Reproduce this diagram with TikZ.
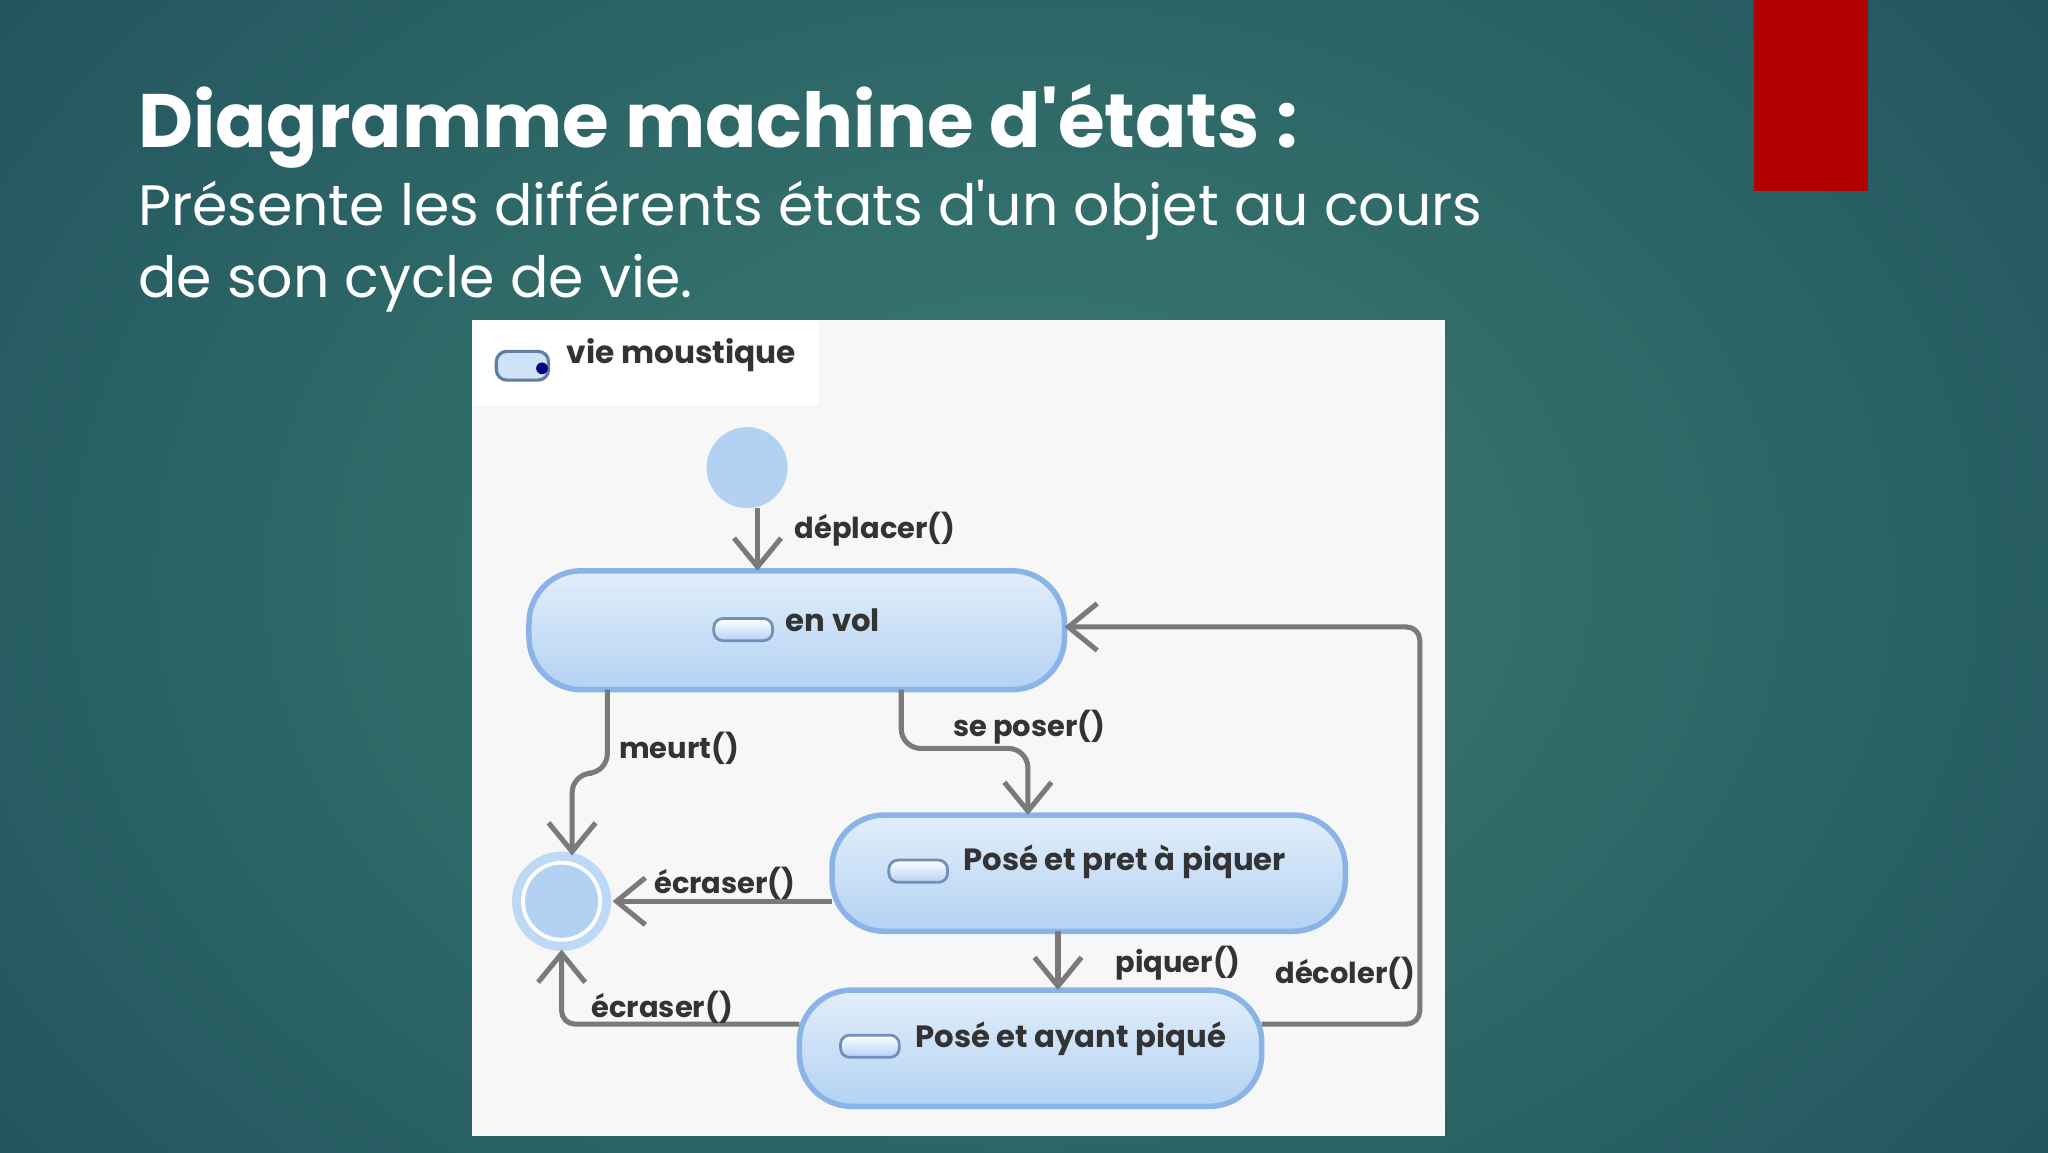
\documentclass[tikz,border=0pt]{standalone}
\usepackage{fontspec}
\setmainfont{Poppins}
\usetikzlibrary{arrows.meta,shadings}
\definecolor{stb}{HTML}{8AB4E8}
\definecolor{stf}{HTML}{CFE3F8}
\definecolor{stf2}{HTML}{B3D2F3}
\definecolor{cn}{HTML}{7A7A7A}
\definecolor{txt}{HTML}{333333}
\definecolor{bgin}{HTML}{3C7D72}
\definecolor{bgout}{HTML}{174556}
\tikzset{
 state/.style={draw=stb,line width=1.2pt,rounded corners=0.4cm,top color=stf!60!white,bottom color=stf2},
 conn/.style={draw=cn,line width=1.1pt,-{Straight Barb[length=0.22cm,width=0.36cm,line width=1.1pt]}},
 lbl/.style={font=\bfseries\fontsize{6.3}{8}\selectfont,text=txt,inner sep=0pt},
 stxt/.style={font=\bfseries\fontsize{6.7}{8}\selectfont,text=txt,inner sep=0pt},
 icon/.style={draw=stb!80!black,line width=0.6pt,rounded corners=0.07cm,top color=white,bottom color=stf2,minimum width=0.45cm,minimum height=0.17cm,inner sep=0pt}
}
\begin{document}
\begin{tikzpicture}[y=-1cm]
\useasboundingbox (0,0) rectangle (15.68,8.82);
\shade[inner color=bgin,outer color=bgout] (-6,-6) rectangle (21.68,14.82);
\clip (0,0) rectangle (15.68,8.82);
\fill[red!70!black] (13.43,0) rectangle (14.3,1.46);
\node[anchor=base west,inner sep=0pt,text=white,font=\bfseries\fontsize{16.5}{20}\selectfont] (title) at (1.05,1.13) {Diagramme machine d\textquotesingle états :};
\node[anchor=base west,inner sep=0pt,text=white,font=\fontsize{12.4}{15}\selectfont] (sub1) at (1.05,1.73) {Présente les différents états d\textquotesingle un objet au cours};
\node[anchor=base west,inner sep=0pt,text=white,font=\fontsize{12.4}{15}\selectfont] (sub2) at (1.05,2.28) {de son cycle de vie.};
\fill[black!3] (3.61,2.45) rectangle (11.06,8.7);
\fill[white] (3.61,2.45) rectangle (6.27,3.1);
\node[draw=stb!70!black,line width=0.7pt,rounded corners=0.08cm,fill=stf,minimum width=0.4cm,minimum height=0.22cm,inner sep=0pt] (tabicon) at (4.0,2.8) {};
\fill[blue!50!black] (4.15,2.82) circle (0.045);
\node[anchor=west,font=\bfseries\fontsize{6.8}{8}\selectfont,text=txt,inner sep=0pt] (tab) at (4.33,2.72) {vie moustique};
% states
\node[circle,fill=stf2,minimum size=0.62cm,inner sep=0pt] (init) at (5.72,3.58) {};
\draw[state] (4.05,4.37) rectangle (8.15,5.28);
\node[icon] (i1) at (5.69,4.82) {};
\node[stxt,anchor=west] (t1) at (6.01,4.75) {en vol};
\draw[state] (6.37,6.24) rectangle (10.3,7.13);
\node[icon] (i2) at (7.03,6.67) {};
\node[stxt,anchor=west] (t2) at (7.37,6.6) {Posé et pret à piquer};
\draw[state] (6.12,7.58) rectangle (9.66,8.47);
\node[icon] (i3) at (6.66,8.01) {};
\node[stxt,anchor=west] (t3) at (7.0,7.95) {Posé et ayant piqué};
\fill[stf2!85!white] (4.3,6.9) circle (0.38);
\fill[white] (4.3,6.9) circle (0.31);
\node[circle,fill=stf2,minimum size=0.56cm,inner sep=0pt] (fin) at (4.3,6.9) {};
\coordinate (a1) at (5.8,3.89); \coordinate (a2) at (5.8,4.37);
\coordinate (b1) at (4.65,5.28); \coordinate (b2) at (4.38,6.55);
\coordinate (c1) at (6.9,5.28); \coordinate (c2) at (7.87,6.24);
\coordinate (d1) at (6.37,6.9); \coordinate (d2) at (4.69,6.9);
\coordinate (e1) at (8.1,7.13); \coordinate (e2) at (8.1,7.58);
\coordinate (f1) at (6.12,7.84); \coordinate (f2) at (4.3,7.27);
\coordinate (g1) at (9.66,7.84); \coordinate (g2) at (8.15,4.8);
\draw[conn] (a1) -- (a2);
\draw[conn,rounded corners=0.15cm] (b1) -- (4.65,5.92) -- (4.38,5.92) -- (b2);
\draw[conn,rounded corners=0.15cm] (c1) -- (6.9,5.73) -- (7.87,5.73) -- (c2);
\draw[conn] (d1) -- (d2);
\draw[conn] (e1) -- (e2);
\draw[conn,rounded corners=0.1cm] (f1) -- (4.3,7.84) -- (f2);
\draw[conn,rounded corners=0.1cm] (g1) -- (10.87,7.84) -- (10.87,4.8) -- (g2);
\node[lbl] (l1) at (6.7,4.05) {déplacer()};
\node[lbl] (l2) at (5.2,5.73) {meurt()};
\node[lbl] (l3) at (7.88,5.57) {se poser()};
\node[lbl] (l4) at (5.55,6.76) {écraser()};
\node[lbl] (l5) at (9.02,7.37) {piquer()};
\node[lbl] (l6) at (5.07,7.71) {écraser()};
\node[lbl] (l7) at (10.3,7.45) {décoler()};
\end{tikzpicture}
\end{document}
